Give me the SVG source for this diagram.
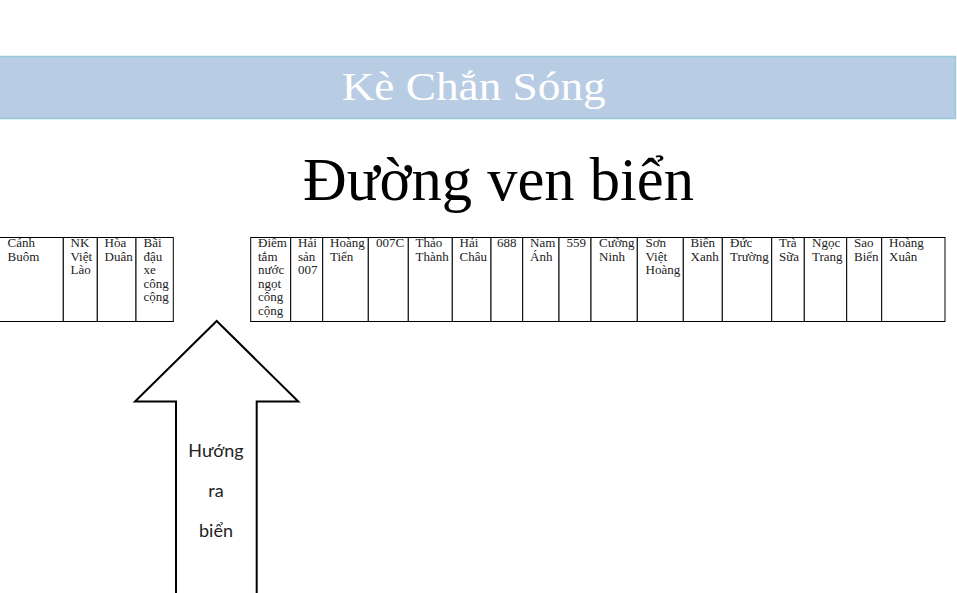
<svg xmlns="http://www.w3.org/2000/svg" width="957" height="593" viewBox="0 0 957 593">
<style>
.cell rect{fill:#fff;stroke:#000;stroke-width:1}
.cell text{font-family:"Liberation Serif","Times New Roman",serif;font-size:13px;fill:#222}
.banner{fill:#b8cce4;stroke:#93cbd8;stroke-width:1.5}
.arrow{fill:#fff;stroke:#000;stroke-width:2;stroke-linejoin:miter}
.atext{font-family:Lato,"Open Sans",sans-serif;font-size:18px;fill:#222;text-anchor:middle}
</style>
<rect width="957" height="593" fill="#fff"/>
<g id="banner">
<rect class="banner" x="-2" y="56.5" width="957.5" height="62"/>
<text x="341.7" y="100" font-family="Liberation Serif,'Times New Roman',serif" font-size="40" fill="#fff" textLength="264" lengthAdjust="spacingAndGlyphs">Kè Chắn Sóng</text>
</g>
<g id="road-title">
<text x="303" y="200" font-family="Liberation Serif,'Times New Roman',serif" font-size="61" fill="#000" textLength="391" lengthAdjust="spacingAndGlyphs">Đường ven biển</text>
</g>
<g id="c1" class="cell"><rect x="-1" y="237.5" width="64.3" height="84"/><text x="7.5" y="247"><tspan x="7.5">Cánh</tspan><tspan x="7.5" dy="13.6">Buôm</tspan></text></g>
<g id="c2" class="cell"><rect x="63.3" y="237.5" width="34" height="84"/><text y="247"><tspan x="70.5">NK</tspan><tspan x="70.5" dy="13.6">Việt</tspan><tspan x="70.5" dy="13.6">Lào</tspan></text></g>
<g id="c3" class="cell"><rect x="97.3" y="237.5" width="38.7" height="84"/><text y="247"><tspan x="104.5">Hòa</tspan><tspan x="104.5" dy="13.6">Duân</tspan></text></g>
<g id="c4" class="cell"><rect x="136" y="237.5" width="37.3" height="84"/><text y="247"><tspan x="143.5">Bãi</tspan><tspan x="143.5" dy="13.6">đậu</tspan><tspan x="143.5" dy="13.6">xe</tspan><tspan x="143.5" dy="13.6">công</tspan><tspan x="143.5" dy="13.6">cộng</tspan></text></g>
<g id="c5" class="cell"><rect x="250.7" y="237.5" width="40" height="84"/><text y="247"><tspan x="258">Điểm</tspan><tspan x="258" dy="13.6">tắm</tspan><tspan x="258" dy="13.6">nước</tspan><tspan x="258" dy="13.6">ngọt</tspan><tspan x="258" dy="13.6">công</tspan><tspan x="258" dy="13.6">cộng</tspan></text></g>
<g id="c6" class="cell"><rect x="290.7" y="237.5" width="32" height="84"/><text y="247"><tspan x="298">Hải</tspan><tspan x="298" dy="13.6">sản</tspan><tspan x="298" dy="13.6">007</tspan></text></g>
<g id="c7" class="cell"><rect x="322.7" y="237.5" width="45.6" height="84"/><text y="247"><tspan x="330">Hoàng</tspan><tspan x="330" dy="13.6">Tiến</tspan></text></g>
<g id="c8" class="cell"><rect x="368.3" y="237.5" width="40" height="84"/><text y="247"><tspan x="376">007C</tspan></text></g>
<g id="c9" class="cell"><rect x="408.3" y="237.5" width="44" height="84"/><text y="247"><tspan x="415.5">Thảo</tspan><tspan x="415.5" dy="13.6">Thành</tspan></text></g>
<g id="c10" class="cell"><rect x="452.3" y="237.5" width="38.7" height="84"/><text y="247"><tspan x="459.5">Hải</tspan><tspan x="459.5" dy="13.6">Châu</tspan></text></g>
<g id="c11" class="cell"><rect x="491" y="237.5" width="31.7" height="84"/><text y="247"><tspan x="497">688</tspan></text></g>
<g id="c12" class="cell"><rect x="522.7" y="237.5" width="36.3" height="84"/><text y="247"><tspan x="530">Nam</tspan><tspan x="530" dy="13.6">Ánh</tspan></text></g>
<g id="c13" class="cell"><rect x="559" y="237.5" width="32" height="84"/><text y="247"><tspan x="566.5">559</tspan></text></g>
<g id="c14" class="cell"><rect x="591" y="237.5" width="46.3" height="84"/><text y="247"><tspan x="599">Cường</tspan><tspan x="599" dy="13.6">Ninh</tspan></text></g>
<g id="c15" class="cell"><rect x="637.3" y="237.5" width="46" height="84"/><text y="247"><tspan x="645.5">Sơn</tspan><tspan x="645.5" dy="13.6">Việt</tspan><tspan x="645.5" dy="13.6">Hoàng</tspan></text></g>
<g id="c16" class="cell"><rect x="683.3" y="237.5" width="39" height="84"/><text y="247"><tspan x="690.5">Biển</tspan><tspan x="690.5" dy="13.6">Xanh</tspan></text></g>
<g id="c17" class="cell"><rect x="722.3" y="237.5" width="49.4" height="84"/><text y="247"><tspan x="730">Đức</tspan><tspan x="730" dy="13.6">Trường</tspan></text></g>
<g id="c18" class="cell"><rect x="771.7" y="237.5" width="32.6" height="84"/><text y="247"><tspan x="779">Trà</tspan><tspan x="779" dy="13.6">Sữa</tspan></text></g>
<g id="c19" class="cell"><rect x="804.3" y="237.5" width="42.4" height="84"/><text y="247"><tspan x="812">Ngọc</tspan><tspan x="812" dy="13.6">Trang</tspan></text></g>
<g id="c20" class="cell"><rect x="846.7" y="237.5" width="35" height="84"/><text y="247"><tspan x="854">Sao</tspan><tspan x="854" dy="13.6">Biển</tspan></text></g>
<g id="c21" class="cell"><rect x="881.7" y="237.5" width="63.3" height="84"/><text y="247"><tspan x="889">Hoàng</tspan><tspan x="889" dy="13.6">Xuân</tspan></text></g>
<g id="connectors">
<g id="sea-arrow">
<polygon class="arrow" points="216.7,321 298.3,401.5 256.7,401.5 256.7,600 176,600 176,401.5 135,401.5"/>
<text class="atext" x="216" y="457">Hướng</text>
<text class="atext" x="216" y="497">ra</text>
<text class="atext" x="216" y="537">biển</text>
</g>
</g>
</svg>
